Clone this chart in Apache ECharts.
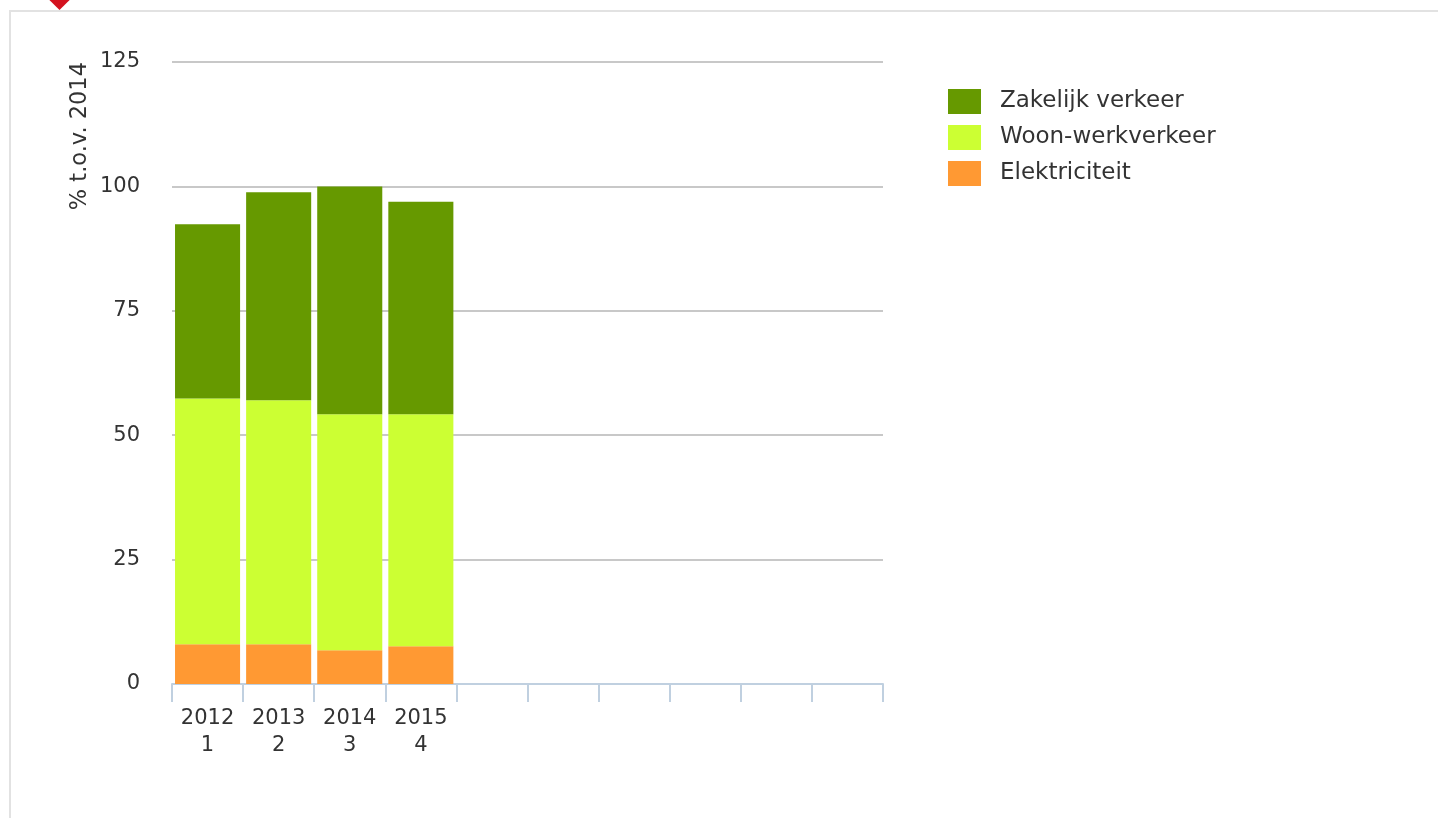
<!DOCTYPE html>
<html>
<head>
<meta charset="utf-8">
<script src="https://cdn.jsdelivr.net/npm/echarts@6/dist/echarts.min.js"></script>
<style>
  html, body { margin: 0; padding: 0; background: #fff; }
  #frame { position: absolute; left: 9px; top: 10px; width: 1429px; height: 808px;
           border-left: 2px solid #e2e2e2; border-top: 2px solid #e2e2e2; }
  #marker { position: absolute; left: 52px; top: -8px; width: 15px; height: 15px;
            background: #d3121f; transform: rotate(45deg); }
  #chart { position: absolute; left: 0; top: 0; width: 1438px; height: 818px; }
</style>
</head>
<body>
<div id="frame"></div>
<div id="marker"></div>
<div id="chart"></div>
<script>
// categorieen (10 plekken, alleen de eerste 4 gevuld)
const jaren = ["2012\n1", "2013\n2", "2014\n3", "2015\n4", "", "", "", "", "", ""];
const elektriciteit = [8.0, 8.0, 6.8, 7.6];
const woonWerk = [49.4, 49.0, 47.4, 46.6];
const zakelijk = [35.0, 41.8, 45.8, 42.7];
const yTicks = [0, 25, 50, 75, 100, 125];

const font = "DejaVu Sans";

const chart = echarts.init(document.getElementById('chart'));

const option = {
    animation: false,
    textStyle: { fontFamily: font },
    grid: { left: 172, right: 555, top: 62, bottom: 134 },
    legend: {
        orient: 'vertical',
        left: 943,
        top: 84,
        itemWidth: 33,
        itemHeight: 25,
        itemGap: 11,
        icon: 'rect',
        data: ['Zakelijk verkeer', 'Woon-werkverkeer', 'Elektriciteit'],
        textStyle: { fontFamily: font, fontSize: 23, color: '#333', padding: [0, 0, 0, 14] }
    },
    xAxis: {
        type: 'category',
        data: jaren,
        axisLine: { lineStyle: { color: '#c0d0e0', width: 2 } },
        axisTick: { show: true, length: 18, lineStyle: { color: '#c0d0e0', width: 2 } },
        axisLabel: { fontFamily: font, fontSize: 21, color: '#333', lineHeight: 27, margin: 21, interval: 0 }
    },
    yAxis: {
        type: 'value',
        min: yTicks[0],
        max: yTicks[yTicks.length - 1],
        interval: 25,
        axisLine: { show: false },
        axisTick: { show: false },
        splitLine: { lineStyle: { color: '#c8c8c8', width: 2 } },
        axisLabel: { fontFamily: font, fontSize: 21, color: '#333', margin: 32 }
    },
    graphic: [{
        type: 'text',
        x: 80,
        y: 62,
        rotation: Math.PI / 2,
        style: {
            text: '% t.o.v. 2014',
            fontFamily: font,
            fontSize: 22.5,
            fill: '#333',
            align: 'right',
            verticalAlign: 'middle'
        }
    }],
    series: [
        { name: 'Elektriciteit', type: 'bar', stack: 'totaal', data: elektriciteit,
          barCategoryGap: '8.5%', itemStyle: { color: '#ff9933' } },
        { name: 'Woon-werkverkeer', type: 'bar', stack: 'totaal', data: woonWerk,
          itemStyle: { color: '#ccff33' } },
        { name: 'Zakelijk verkeer', type: 'bar', stack: 'totaal', data: zakelijk,
          itemStyle: { color: '#669900' } }
    ]
};

chart.setOption(option);
</script>
</body>
</html>
